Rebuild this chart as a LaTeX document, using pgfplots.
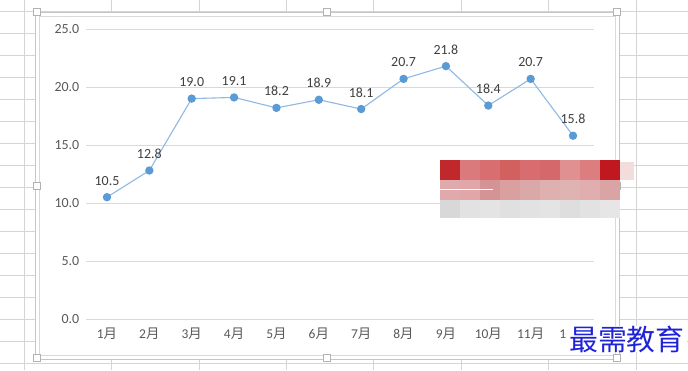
\documentclass[border=0pt]{standalone}
\usepackage{pgfplots}
\pgfplotsset{compat=1.18}
\usepackage{fontspec}
\setmainfont{Carlito}
\newfontfamily\cjk{Noto Sans CJK SC}
\definecolor{gridc}{HTML}{D9D9D9}
\definecolor{sheet}{HTML}{D4D4D4}
\definecolor{ticktxt}{HTML}{595959}
\definecolor{lbltxt}{HTML}{404040}
\definecolor{markblue}{HTML}{5B9BD5}
\definecolor{lineblue}{HTML}{8FB9E3}
\definecolor{wm}{HTML}{1E22D8}
\definecolor{fade}{HTML}{F2DCDC}
\pgfplotstableread{
x y
0 10.5
1 12.8
2 19.0
3 19.1
4 18.2
5 18.9
6 18.1
7 20.7
8 21.8
9 18.4
10 20.7
11 15.8
}\datatable
\begin{document}
\begin{tikzpicture}[x=1bp,y=1bp]
\path[use as bounding box] (0,0) rectangle (688,370);
% spreadsheet background
\foreach \xx in {24,111,199,286,373,461,548,636}{\draw[sheet,line width=0.8bp] (\xx,0)--(\xx,370);}
\foreach \k in {0,...,16}{\draw[sheet,line width=0.8bp] (0,{370-11-22*\k})--(688,{370-11-22*\k});}
% chart area
\fill[white] (35,{370-359}) rectangle (619,{370-12});
\draw[color=gray!45,line width=0.8bp] (35,{370-359}) rectangle (619,{370-12});
\draw[color=gridc,line width=0.8bp] (39,{370-355}) rectangle (615,{370-16});
\begin{axis}[
  at={(85.8bp,51bp)}, anchor=south west, scale only axis,
  width=508.4bp, height=290bp,
  xmin=-0.5, xmax=11.5, ymin=0, ymax=25,
  xtick={0,...,11},
  xticklabels={1{\cjk 月},2{\cjk 月},3{\cjk 月},4{\cjk 月},5{\cjk 月},6{\cjk 月},7{\cjk 月},8{\cjk 月},9{\cjk 月},10{\cjk 月},11{\cjk 月},12{\cjk 月}},
  ytick={0,5,10,15,20,25},
  ymajorgrids, grid style={gridc,line width=0.8bp},
  axis line style={draw=none}, tick style={draw=none},
  /pgf/number format/assume math mode=true,
  yticklabel style={/pgf/number format/.cd,fixed,fixed zerofill,precision=1,/tikz/.cd, font=\fontsize{14}{16}\selectfont, text=ticktxt, xshift=-3bp},
  xticklabel style={font=\fontsize{13.5}{15}\selectfont, text=ticktxt, yshift=-5bp},
  nodes near coords,
  nodes near coords style={/pgf/number format/.cd,fixed,fixed zerofill,precision=1,assume math mode=true,/tikz/.cd, font=\fontsize{14}{16}\selectfont, text=lbltxt, anchor=south, yshift=8bp},
  clip=false,
]
\addplot[lineblue, line width=1.1bp, mark=*, mark size=3.6bp, mark options={fill=markblue, draw=markblue}] table[x=x,y=y] {\datatable};
\end{axis}
% selection handles
\foreach \hx/\hy in {37/12, 327/12, 617/12, 37/186, 617/186, 37/358, 327/358, 617/358}{
  \filldraw[fill=white, draw=gray!60, line width=0.6bp] ({\hx-3.5},{370-\hy-3.5}) rectangle ({\hx+3.5},{370-\hy+3.5});}
% blurred overlay block
\foreach \c [count=\i from 0] in {C0282C,DA7A7C,D86E70,D2605F,D86C6E,D4686A,E09090,DC7E80,C0181F}{
  \definecolor{tmp}{HTML}{\c}\fill[tmp] ({440+20*\i},{370-180}) rectangle ({460+20*\i},{370-160});}
\foreach \c [count=\i from 0] in {E0AAAC,E0A6A8,D49496,DAA0A0,DBA8A8,DFB0B0,E0B3B3,E0AEAE,DAA4A4}{
  \definecolor{tmp}{HTML}{\c}\fill[tmp] ({440+20*\i},{370-200}) rectangle ({460+20*\i},{370-180});}
\foreach \c [count=\i from 0] in {D8D8D8,E2E2E2,E4E4E4,E0E0E0,E2E2E2,E4E4E4,DEDEDE,E2E2E2,E6E6E6}{
  \definecolor{tmp}{HTML}{\c}\fill[tmp] ({440+20*\i},{370-218}) rectangle ({460+20*\i},{370-200});}
\fill[fade] (620,{370-180}) rectangle (634,{370-162});
\draw[white,line width=1bp] (440,{370-189})--(493,{370-189});
% watermark
\node[anchor=west, inner xsep=2pt, inner ysep=0pt, fill=white, text=wm, font=\cjk\fontsize{29}{30}\selectfont] at (567,{370-339}) {最需教育};
\end{tikzpicture}
\end{document}
